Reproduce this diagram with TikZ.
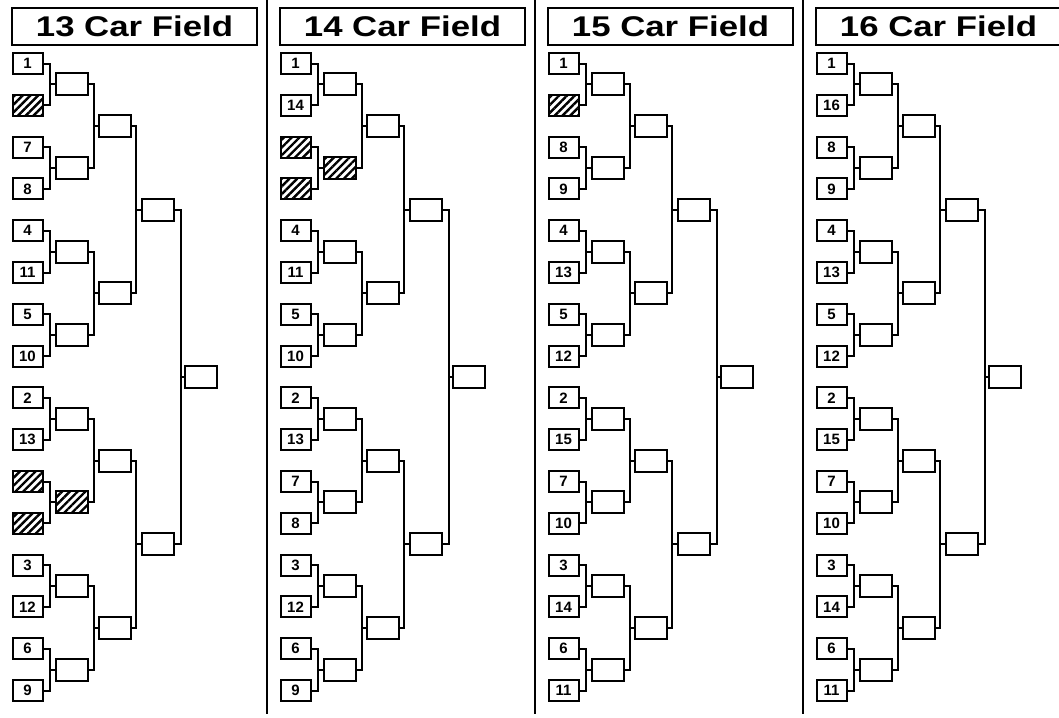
\documentclass[tikz,border=0pt]{standalone}
\usepackage{fontspec}
\setmainfont{Liberation Sans}
\usetikzlibrary{patterns.meta}

\begin{document}
\begin{tikzpicture}[x=1pt, y=-1pt,
  seedbox/.style={draw, line width=2pt, minimum width=30pt, minimum height=21pt, inner sep=0pt, font=\fontsize{15}{15}\selectfont\bfseries},
  bye/.style={seedbox, pattern={Lines[angle=45, distance=5.5pt, line width=2.4pt]}},
  slot/.style={draw, line width=2pt, minimum width=32pt, minimum height=22pt, inner sep=0pt},
  byeslot/.style={slot, pattern={Lines[angle=45, distance=5.5pt, line width=2.4pt]}},
  fieldtitle/.style={draw, line width=1.8pt, minimum width=245pt, minimum height=37pt, inner sep=0pt, font=\fontsize{28.5}{30}\selectfont\bfseries},
  wire/.style={line width=2pt}]
  \useasboundingbox (0,0) rectangle (1059,717);

  % 13 car field
  \begin{scope}[xshift=0pt]
    \node[fieldtitle] (ftitle13) at (134.5, 26.5) {\scalebox{1.22}[1]{13 Car Field}};
    \foreach \st/\lab [count=\i from 0] in {seedbox/1, bye/, seedbox/7, seedbox/8, seedbox/4, seedbox/11, seedbox/5, seedbox/10,
        seedbox/2, seedbox/13, bye/, bye/, seedbox/3, seedbox/12, seedbox/6, seedbox/9}
      \node[\st] (f13s\i) at (27.5, {63.5+41.8*\i}) {\lab};
    \foreach \st [count=\k from 0] in {slot, slot, slot, slot, slot, byeslot, slot, slot}
      \node[\st] (f13a\k) at (72, {63.5+41.8*(2*\k+0.5)}) {};
    \foreach \k in {0,...,3}
      \node[slot] (f13b\k) at (114.5, {63.5+41.8*(4*\k+1.5)}) {};
    \foreach \k in {0,1}
      \node[slot] (f13c\k) at (158, {63.5+41.8*(8*\k+3.5)}) {};
    \node[slot] (f13d0) at (201, 377) {};
    \foreach \lo/\hi/\m/\gap in {s/a/7/6.5, a/b/3/5, b/c/1/4.5, c/d/0/6}
      \foreach \k in {0,...,\m} {
        \pgfmathtruncatemacro\ka{2*\k}
        \pgfmathtruncatemacro\kb{2*\k+1}
        \draw[wire] (f13\lo\ka.east) -- ++(\gap,0) |- (f13\hi\k.west);
        \draw[wire] (f13\lo\kb.east) -- ++(\gap,0) |- (f13\hi\k.west);
      }
  \end{scope}

  % 14 car field
  \begin{scope}[xshift=268pt]
    \node[fieldtitle] (ftitle14) at (134.5, 26.5) {\scalebox{1.22}[1]{14 Car Field}};
    \foreach \st/\lab [count=\i from 0] in {seedbox/1, seedbox/14, bye/, bye/, seedbox/4, seedbox/11, seedbox/5, seedbox/10,
        seedbox/2, seedbox/13, seedbox/7, seedbox/8, seedbox/3, seedbox/12, seedbox/6, seedbox/9}
      \node[\st] (f14s\i) at (27.5, {63.5+41.8*\i}) {\lab};
    \foreach \st [count=\k from 0] in {slot, byeslot, slot, slot, slot, slot, slot, slot}
      \node[\st] (f14a\k) at (72, {63.5+41.8*(2*\k+0.5)}) {};
    \foreach \k in {0,...,3}
      \node[slot] (f14b\k) at (114.5, {63.5+41.8*(4*\k+1.5)}) {};
    \foreach \k in {0,1}
      \node[slot] (f14c\k) at (158, {63.5+41.8*(8*\k+3.5)}) {};
    \node[slot] (f14d0) at (201, 377) {};
    \foreach \lo/\hi/\m/\gap in {s/a/7/6.5, a/b/3/5, b/c/1/4.5, c/d/0/6}
      \foreach \k in {0,...,\m} {
        \pgfmathtruncatemacro\ka{2*\k}
        \pgfmathtruncatemacro\kb{2*\k+1}
        \draw[wire] (f14\lo\ka.east) -- ++(\gap,0) |- (f14\hi\k.west);
        \draw[wire] (f14\lo\kb.east) -- ++(\gap,0) |- (f14\hi\k.west);
      }
  \end{scope}

  % 15 car field
  \begin{scope}[xshift=536pt]
    \node[fieldtitle] (ftitle15) at (134.5, 26.5) {\scalebox{1.22}[1]{15 Car Field}};
    \foreach \st/\lab [count=\i from 0] in {seedbox/1, bye/, seedbox/8, seedbox/9, seedbox/4, seedbox/13, seedbox/5, seedbox/12,
        seedbox/2, seedbox/15, seedbox/7, seedbox/10, seedbox/3, seedbox/14, seedbox/6, seedbox/11}
      \node[\st] (f15s\i) at (27.5, {63.5+41.8*\i}) {\lab};
    \foreach \k in {0,...,7}
      \node[slot] (f15a\k) at (72, {63.5+41.8*(2*\k+0.5)}) {};
    \foreach \k in {0,...,3}
      \node[slot] (f15b\k) at (114.5, {63.5+41.8*(4*\k+1.5)}) {};
    \foreach \k in {0,1}
      \node[slot] (f15c\k) at (158, {63.5+41.8*(8*\k+3.5)}) {};
    \node[slot] (f15d0) at (201, 377) {};
    \foreach \lo/\hi/\m/\gap in {s/a/7/6.5, a/b/3/5, b/c/1/4.5, c/d/0/6}
      \foreach \k in {0,...,\m} {
        \pgfmathtruncatemacro\ka{2*\k}
        \pgfmathtruncatemacro\kb{2*\k+1}
        \draw[wire] (f15\lo\ka.east) -- ++(\gap,0) |- (f15\hi\k.west);
        \draw[wire] (f15\lo\kb.east) -- ++(\gap,0) |- (f15\hi\k.west);
      }
  \end{scope}

  % 16 car field
  \begin{scope}[xshift=804pt]
    \node[fieldtitle] (ftitle16) at (134.5, 26.5) {\scalebox{1.22}[1]{16 Car Field}};
    \foreach \st/\lab [count=\i from 0] in {seedbox/1, seedbox/16, seedbox/8, seedbox/9, seedbox/4, seedbox/13, seedbox/5, seedbox/12,
        seedbox/2, seedbox/15, seedbox/7, seedbox/10, seedbox/3, seedbox/14, seedbox/6, seedbox/11}
      \node[\st] (f16s\i) at (27.5, {63.5+41.8*\i}) {\lab};
    \foreach \k in {0,...,7}
      \node[slot] (f16a\k) at (72, {63.5+41.8*(2*\k+0.5)}) {};
    \foreach \k in {0,...,3}
      \node[slot] (f16b\k) at (114.5, {63.5+41.8*(4*\k+1.5)}) {};
    \foreach \k in {0,1}
      \node[slot] (f16c\k) at (158, {63.5+41.8*(8*\k+3.5)}) {};
    \node[slot] (f16d0) at (201, 377) {};
    \foreach \lo/\hi/\m/\gap in {s/a/7/6.5, a/b/3/5, b/c/1/4.5, c/d/0/6}
      \foreach \k in {0,...,\m} {
        \pgfmathtruncatemacro\ka{2*\k}
        \pgfmathtruncatemacro\kb{2*\k+1}
        \draw[wire] (f16\lo\ka.east) -- ++(\gap,0) |- (f16\hi\k.west);
        \draw[wire] (f16\lo\kb.east) -- ++(\gap,0) |- (f16\hi\k.west);
      }
  \end{scope}

  % rules between the fields
  \foreach \x in {267,535,803}
    \draw[line width=1.5pt] (\x,0) -- (\x,714);
\end{tikzpicture}
\end{document}
